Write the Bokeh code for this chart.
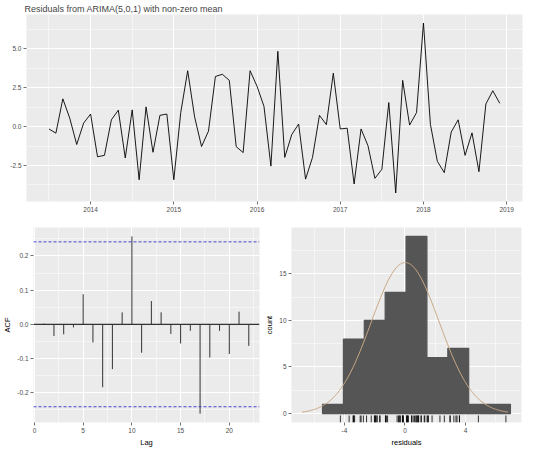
import numpy as np
from bokeh.plotting import figure
from bokeh.layouts import column, row
from bokeh.models import FixedTicker, Range1d, Span, PrintfTickFormatter
from bokeh.embed import file_html
from bokeh.resources import INLINE

FONT = "Liberation Sans"

# ---------------- data ----------------
title_text = "Residuals from ARIMA(5,0,1) with non-zero mean"
start_year = 2013.5  # July 2013, monthly
residuals = [-0.15, -0.42, 1.79, 0.54, -1.15, 0.23, 0.81, -1.94, -1.85, 0.44,
             1.06, -2.02, 1.08, -3.42, 1.27, -1.65, 0.73, 0.81, -3.42, 0.90,
             3.60, 0.63, -1.28, -0.29, 3.23, 3.37, 2.98, -1.29, -1.67, 3.60,
             2.60, 1.31, -2.54, 4.85, -1.98, -0.52, 0.17, -3.38, -1.98, 0.73,
             0.13, 3.44, -0.15, -0.10, -3.69, -0.15, -1.23, -3.33, -2.75, 1.55,
             -4.27, 2.98, 0.10, 0.90, 6.67, 0.15, -2.23, -2.96, -0.35, 0.44,
             -1.85, -0.40, -2.90, 1.46, 2.31, 1.50]
year_ticks = [2014, 2015, 2016, 2017, 2018, 2019]
resid_ticks = [-2.5, 0.0, 2.5, 5.0]

acf_lags = list(range(1, 23))
acf_values = [0.002, -0.034, -0.029, -0.009, 0.088, -0.053, -0.184, -0.131,
              0.035, 0.257, -0.083, 0.068, 0.035, -0.028, -0.056, -0.019,
              -0.261, -0.097, -0.019, -0.087, 0.037, -0.063]
acf_ci = 0.241
lag_ticks = [0, 5, 10, 15, 20]
acf_ticks = [-0.2, -0.1, 0.0, 0.1, 0.2]

bin_edges = [-5.45, -4.07, -2.69, -1.31, 0.07, 1.45, 2.83, 4.21, 5.59, 6.97]
hist_counts = [1, 8, 10, 13, 19, 6, 7, 1, 1]
hist_xticks = [-4, 0, 4]
hist_yticks = [0, 5, 10, 15]

# ---------------- styling helpers ----------------
def style(p, xt, xminor, yt, yminor, xfmt, yfmt):
    p.background_fill_color = "#EBEBEB"
    p.border_fill_color = "white"
    p.outline_line_color = None
    p.xaxis.ticker = FixedTicker(ticks=xt, minor_ticks=xminor)
    p.yaxis.ticker = FixedTicker(ticks=yt, minor_ticks=yminor)
    p.xaxis.formatter = PrintfTickFormatter(format=xfmt)
    p.yaxis.formatter = PrintfTickFormatter(format=yfmt)
    for g in (p.xgrid, p.ygrid):
        g.grid_line_color = "white"
        g.grid_line_width = 1.1
        g.minor_grid_line_color = "white"
        g.minor_grid_line_width = 0.5
    for ax in p.axis:
        ax.axis_line_color = None
        ax.major_tick_line_color = "#4D4D4D"
        ax.major_tick_line_width = 0.8
        ax.major_tick_out = 3
        ax.major_tick_in = 0
        ax.minor_tick_line_color = None
        ax.major_label_text_font = FONT
        ax.major_label_text_font_size = "6.5px"
        ax.major_label_text_color = "#4D4D4D"
        ax.major_label_standoff = 1
        ax.axis_label_text_font = FONT
        ax.axis_label_text_font_size = "7.5px"
        ax.axis_label_text_font_style = "normal"
        ax.axis_label_text_color = "black"
        ax.axis_label_standoff = 2

# ---------------- top: residual time series ----------------
n = len(residuals)
dates = [start_year + i / 12 for i in range(n)]

top = figure(width=524, height=221, output_backend="svg", toolbar_location=None,
             x_range=Range1d(2013.23, 2019.19), y_range=Range1d(-4.82, 7.22),
             min_border_left=26, min_border_right=2, min_border_top=0,
             min_border_bottom=20)
top.title.text = title_text
top.title.text_font = FONT
top.title.text_font_size = "9px"
top.title.text_font_style = "normal"
top.title.standoff = 2
top.title.offset = -2
style(top, year_ticks, [y - 0.5 for y in year_ticks], resid_ticks,
      [t - 1.25 for t in resid_ticks] + [6.25], "%d", "%.1f")
top.line(dates, residuals, line_color="black", line_width=0.9)

# ---------------- bottom left: ACF ----------------
acf = figure(width=262, height=228, output_backend="svg", toolbar_location=None,
             x_range=Range1d(-0.1, 23.1), y_range=Range1d(-0.287, 0.283),
             min_border_left=26, min_border_right=3, min_border_top=6,
             min_border_bottom=24)
style(acf, lag_ticks, [2.5, 7.5, 12.5, 17.5, 22.5], acf_ticks,
      [-0.25, -0.15, -0.05, 0.05, 0.15, 0.25], "%d", "%.1f")
acf.xaxis.axis_label = "Lag"
acf.yaxis.axis_label = "ACF"
acf.add_layout(Span(location=0, dimension="width", line_color="#333333", line_width=1.2))
acf.segment(x0=acf_lags, y0=[0] * len(acf_lags), x1=acf_lags, y1=acf_values,
            line_color="#333333", line_width=1)
for c in (acf_ci, -acf_ci):
    acf.add_layout(Span(location=c, dimension="width", line_color="#3333CC",
                        line_width=0.9, line_dash="3 2"))

# ---------------- bottom right: histogram ----------------
hist = figure(width=262, height=228, output_backend="svg", toolbar_location=None,
              x_range=Range1d(-7.5, 7.7), y_range=Range1d(-0.95, 19.95),
              min_border_left=24, min_border_right=3, min_border_top=6,
              min_border_bottom=24)
style(hist, hist_xticks, [-6, -2, 2, 6], hist_yticks, [2.5, 7.5, 12.5, 17.5],
      "%d", "%d")
hist.xaxis.axis_label = "residuals"
hist.yaxis.axis_label = "count"
hist.quad(left=bin_edges[:-1], right=bin_edges[1:], bottom=0, top=hist_counts,
          fill_color="#555555", line_color="#555555", line_width=1.2)

r = np.array(residuals)
mu, sd = r.mean(), r.std(ddof=1)
bw = bin_edges[1] - bin_edges[0]
xs = np.linspace(-6.8, 6.8, 200)
ys = n * bw * np.exp(-0.5 * ((xs - mu) / sd) ** 2) / (sd * np.sqrt(2 * np.pi))
hist.line(xs, ys, line_color="#C9A886", line_width=1)

hist.segment(x0=residuals, y0=[-0.95] * n, x1=residuals, y1=[-0.2] * n,
             line_color="black", line_width=0.8)

layout = column(top, row(acf, hist))
open("out.html", "w").write(file_html(layout, INLINE))
